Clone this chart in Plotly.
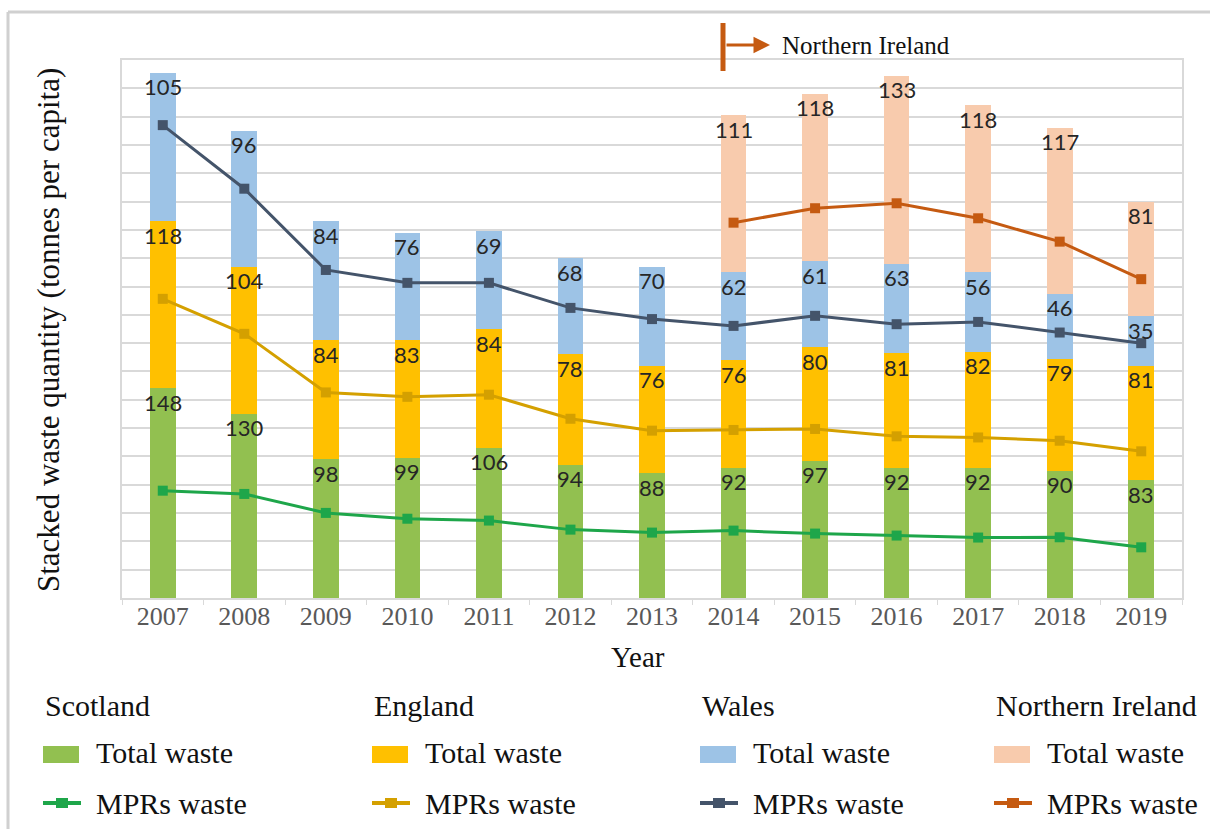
import numpy as np
import plotly.graph_objects as go

years = ["2007", "2008", "2009", "2010", "2011", "2012", "2013",
         "2014", "2015", "2016", "2017", "2018", "2019"]

scotland_total = [148, 130, 98, 99, 106, 94, 88, 92, 97, 92, 92, 90, 83]
england_total = [118, 104, 84, 83, 84, 78, 76, 76, 80, 81, 82, 79, 81]
wales_total = [105, 96, 84, 76, 69, 68, 70, 62, 61, 63, 56, 46, 35]
ni_total = [None, None, None, None, None, None, None, 111, 118, 133, 118, 117, 81]

# MPRs waste lines, as plotted on the stacked scale
scotland_mprs = [75.8, 73.5, 60.1, 56.0, 54.7, 48.3, 46.2, 47.6, 45.5, 44.1, 42.7, 42.9, 35.8]
england_mprs = [211.3, 186.6, 145.2, 142.1, 143.6, 126.6, 118.2, 118.7, 119.4, 114.2, 113.4, 111.1, 103.6]
wales_mprs = [334.0, 289.1, 231.7, 222.6, 222.6, 204.9, 197.0, 192.2, 199.3, 193.4, 195.0, 187.5, 180.0]
ni_mprs = [None, None, None, None, None, None, None, 265.1, 275.3, 278.8, 268.2, 251.7, 225.2]

regions = ["Scotland", "England", "Wales", "Northern Ireland"]
bar_colors = ["#92c050", "#ffc000", "#9dc3e6", "#f8cbad"]
line_colors = ["#1ea64a", "#d4a000", "#44546a", "#c55a11"]

SERIF = "Liberation Serif"
SANS = "Lato"

W, H = 1210, 829
ML, MR, MT, MB = 122, 28, 60, 231
PW = W - ML - MR
PH = H - MT - MB


def px(x):
    return (x - ML) / PW


def py(y):
    return (H - MB - y) / PH


fig = go.Figure()

totals = [scotland_total, england_total, wales_total, ni_total]
mprs = [scotland_mprs, england_mprs, wales_mprs, ni_mprs]

for name, vals, col in zip(regions, totals, bar_colors):
    fig.add_trace(go.Bar(
        x=years, y=vals, name=name + " Total waste",
        marker=dict(color=col, line=dict(width=0)),
        showlegend=False,
    ))

for name, vals, col in zip(regions, mprs, line_colors):
    fig.add_trace(go.Scatter(
        x=years, y=vals, name=name + " MPRs waste", mode="lines+markers",
        line=dict(color=col, width=3),
        marker=dict(symbol="square", size=10, color=col),
        showlegend=False,
    ))

annotations = []
# data labels at the top inside of each stacked segment
cum = np.zeros(len(years))
for vals in totals:
    arr = np.array([v if v is not None else 0 for v in vals], dtype=float)
    cum = cum + arr
    for i, v in enumerate(vals):
        if v is None:
            continue
        annotations.append(dict(
            x=i, y=float(cum[i]), xref="x", yref="y", text=str(v),
            showarrow=False, yshift=-14,
            font=dict(family=SANS, size=22, color="#262626"),
        ))

# axis titles
annotations.append(dict(
    x=px(638), y=py(657), xref="paper", yref="paper", text="Year",
    showarrow=False, font=dict(family=SERIF, size=29, color="#111111"),
    xanchor="center", yanchor="middle",
))
annotations.append(dict(
    x=px(48), y=py(330), xref="paper", yref="paper",
    text="Stacked waste quantity (tonnes per capita)", textangle=-90,
    showarrow=False, font=dict(family=SERIF, size=31, color="#111111"),
    xanchor="center", yanchor="middle",
))

# Northern Ireland marker
annotations.append(dict(
    x=px(770), y=py(45), ax=-45, ay=0, xref="paper", yref="paper",
    text="", showarrow=True, arrowhead=2, arrowsize=1.1, arrowwidth=3,
    arrowcolor=line_colors[3],
))
annotations.append(dict(
    x=px(780), y=py(45), xref="paper", yref="paper", text="Northern Ireland",
    showarrow=False, xanchor="left", yanchor="middle",
    font=dict(family=SERIF, size=25, color="#111111"),
))

shapes = []
shapes.append(dict(type="line", xref="paper", yref="paper",
                   x0=px(723), x1=px(723), y0=py(23), y1=py(71),
                   line=dict(color=line_colors[3], width=5)))

# outer frame (top and left)
shapes.append(dict(type="line", xref="paper", yref="paper",
                   x0=px(8), x1=px(1215), y0=py(12), y1=py(12),
                   line=dict(color="#d0d0d0", width=3)))
shapes.append(dict(type="line", xref="paper", yref="paper",
                   x0=px(8), x1=px(8), y0=py(12), y1=py(835),
                   line=dict(color="#d0d0d0", width=3)))

# custom legend
col_x = [43, 372, 700, 994]
for name, bc, lc, cx in zip(regions, bar_colors, line_colors, col_x):
    annotations.append(dict(
        x=px(cx), y=py(705), xref="paper", yref="paper", text=name,
        showarrow=False, xanchor="left", yanchor="middle",
        font=dict(family=SERIF, size=30, color="#111111"),
    ))
    shapes.append(dict(type="rect", xref="paper", yref="paper",
                       x0=px(cx), x1=px(cx + 36), y0=py(763), y1=py(746),
                       fillcolor=bc, line=dict(width=0)))
    annotations.append(dict(
        x=px(cx + 51), y=py(753), xref="paper", yref="paper", text="Total waste",
        showarrow=False, xanchor="left", yanchor="middle",
        font=dict(family=SERIF, size=30, color="#111111"),
    ))
    shapes.append(dict(type="line", xref="paper", yref="paper",
                       x0=px(cx), x1=px(cx + 38), y0=py(803), y1=py(803),
                       line=dict(color=lc, width=4)))
    shapes.append(dict(type="rect", xref="paper", yref="paper",
                       x0=px(cx + 13), x1=px(cx + 25), y0=py(808), y1=py(798),
                       fillcolor=lc, line=dict(width=0)))
    annotations.append(dict(
        x=px(cx + 51), y=py(803), xref="paper", yref="paper", text="MPRs waste",
        showarrow=False, xanchor="left", yanchor="middle",
        font=dict(family=SERIF, size=30, color="#111111"),
    ))

fig.update_layout(
    width=W, height=H,
    margin=dict(l=ML, r=MR, t=MT, b=MB, pad=0),
    barmode="stack", bargap=0.685,
    paper_bgcolor="white", plot_bgcolor="white",
    showlegend=False,
    annotations=annotations, shapes=shapes,
    xaxis=dict(
        type="category", categoryorder="array", categoryarray=years,
        range=[-0.5, len(years) - 0.5], autorange=False,
        showgrid=False,
        showline=True, linecolor="#d9d9d9", linewidth=2, mirror=True,
        ticks="outside", tickson="boundaries", ticklen=5, tickcolor="#d9d9d9",
        tickfont=dict(family=SERIF, size=26, color="#595959"),
        tickangle=0, ticklabelstandoff=-6,
        zeroline=False,
    ),
    yaxis=dict(
        range=[0, 380], autorange=False, dtick=20, showticklabels=False,
        showgrid=True, gridcolor="#d9d9d9", gridwidth=1.5,
        showline=True, linecolor="#d9d9d9", linewidth=2, mirror=True,
        zeroline=False, ticks="",
    ),
)

fig.write_html("out.html")
